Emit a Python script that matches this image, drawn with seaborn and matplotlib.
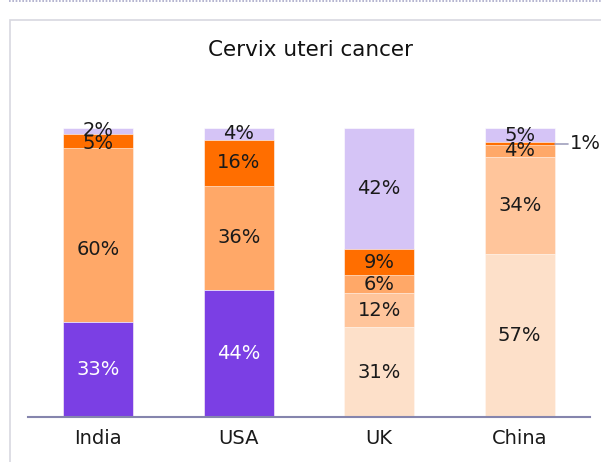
import matplotlib
matplotlib.use("Agg")
import matplotlib.pyplot as plt
import numpy as np
import pandas as pd
import seaborn as sns
from matplotlib.lines import Line2D
from matplotlib.patches import Rectangle

countries = ["India", "USA", "UK", "China"]
# stack order, bottom to top
purple = [33, 44, 0, 0]
peach = [0, 0, 31, 57]
light_orange = [0, 0, 12, 34]
mid_orange = [60, 36, 6, 4]
dark_orange = [5, 16, 9, 1]
lavender = [2, 4, 42, 5]

layers = [purple, peach, light_orange, mid_orange, dark_orange, lavender]
colors = ["#7b3fe4", "#fde0c9", "#ffc59b", "#ffa868", "#ff6e00", "#d5c4f6"]
text_colors = ["white", "#1a1a1a", "#1a1a1a", "#1a1a1a", "#1a1a1a", "#1a1a1a"]

# small label nudges (layer, country index) -> shift in % units
nudge = {(3, 0): -5, (4, 0): -1}

sns.set_style("white")
plt.rcParams["font.family"] = ["DejaVu Sans"]

vals = np.array(layers, dtype=float)
shares = vals / vals.sum(axis=0) * 100
cum = np.cumsum(shares, axis=0)

fig = plt.figure(figsize=(6.01, 4.62), dpi=100)
ax = fig.add_axes([28 / 601, 1 - 417 / 462, 562 / 601, 289 / 462])

# draw cumulative totals from the top layer down so each lower layer overlays
for k in range(len(layers) - 1, -1, -1):
    df = pd.DataFrame({"country": countries, "top": cum[k]})
    sns.barplot(data=df, x="country", y="top", color=colors[k], width=0.5,
                saturation=1, edgecolor="white", linewidth=0.4, ax=ax)

for k in range(len(layers)):
    for i, c in enumerate(countries):
        v = layers[k][i]
        if v == 0:
            continue
        y = cum[k][i] - shares[k][i] / 2 + nudge.get((k, i), 0)
        if c == "China" and v == 1:
            ax.plot([i + 0.25, i + 0.34], [y, y], color="#a0a0bc", lw=1.2, clip_on=False)
            ax.text(i + 0.36, y, f"{v}%", ha="left", va="center", fontsize=14,
                    color=text_colors[k], clip_on=False)
            continue
        ax.text(i, y, f"{v}%", ha="center", va="center", fontsize=14, color=text_colors[k])

ax.set_xlim(-0.5, 3.5)
ax.set_ylim(0, 100)
ax.set_xlabel("")
ax.set_ylabel("")
ax.set_yticks([])
ax.tick_params(axis="x", length=0, labelsize=14, pad=9, colors="#1a1a1a")
for s in ["top", "right", "left"]:
    ax.spines[s].set_visible(False)
ax.spines["bottom"].set_color("#8585ad")
ax.spines["bottom"].set_linewidth(1.5)

fig.text(310 / 601, 1 - 50 / 462, "Cervix uteri cancer", ha="center", va="center",
         fontsize=15.5, color="#111111")

# surrounding frame and dotted top rule
fig.add_artist(Rectangle((10 / 601, -0.1), 1.2, 1 - 20 / 462 + 0.1, transform=fig.transFigure,
                         fill=False, edgecolor="#d8d8e0", lw=1.2))
fig.add_artist(Line2D([9 / 601, 1], [1 - 1 / 462, 1 - 1 / 462], transform=fig.transFigure,
                      color="#a8a8c8", lw=1.2, ls=(0, (1, 1))))

fig.savefig("out.png", dpi=100)
